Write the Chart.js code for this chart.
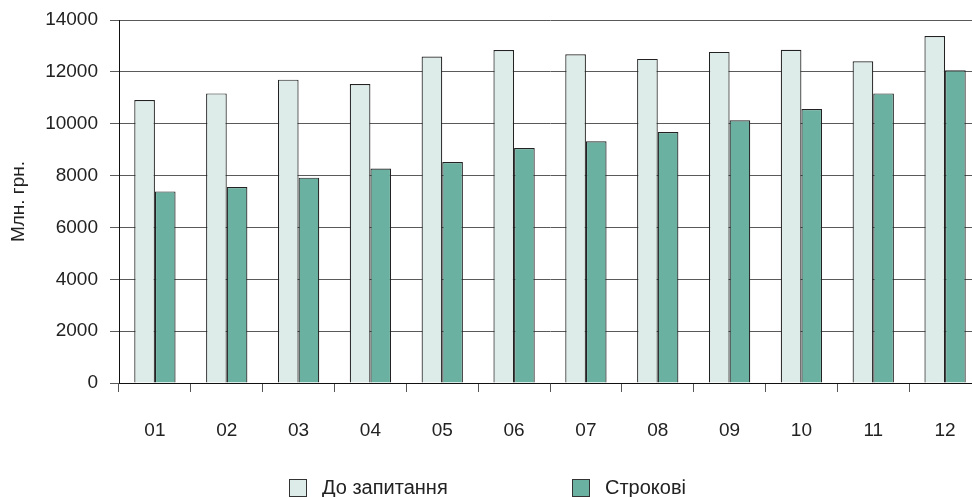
<!DOCTYPE html>
<html>
<head>
<meta charset="utf-8">
<script src="https://cdn.jsdelivr.net/npm/chart.js@4/dist/chart.umd.min.js"></script>
<style>
  html, body { margin: 0; padding: 0; background: #fff; overflow: hidden; width: 972px; height: 497px; }
  #wrap { position: absolute; left: 0; top: 0; width: 982px; height: 497px; }
  #legend { position: absolute; left: 0; top: 0; width: 972px; height: 497px; pointer-events: none;
            font-family: "Liberation Sans", Arial, sans-serif; font-size: 20px; color: #222; }
  .box { position: absolute; width: 16px; height: 16px; border: 1px solid #333; }
  .lbl { position: absolute; line-height: 20px; white-space: nowrap; }
</style>
</head>
<body>
<div id="wrap"><canvas id="c" width="982" height="497"></canvas></div>
<div id="legend"></div>
<script>
const categories = ['01', '02', '03', '04', '05', '06', '07', '08', '09', '10', '11', '12'];
const seriesNames = ['До запитання', 'Строкові'];
const demandDeposits = [10910, 11170, 11700, 11530, 12590, 12840, 12680, 12500, 12770, 12850, 12410, 13380];
const termDeposits = [7390, 7560, 7920, 8270, 8520, 9060, 9320, 9680, 10130, 10570, 11170, 12060];
const yTicks = [0, 2000, 4000, 6000, 8000, 10000, 12000, 14000];
const yTitle = 'Млн. грн.';

const colors = ['#ddece8', '#6ab1a1'];
const FONT = '"Liberation Sans", Arial, sans-serif';

const ctx = document.getElementById('c').getContext('2d');
new Chart(ctx, {
  type: 'bar',
  data: {
    labels: categories,
    datasets: [
      { label: seriesNames[0], data: demandDeposits, backgroundColor: colors[0], borderColor: '#222', borderWidth: 1.2,
        categoryPercentage: 0.575, barPercentage: 1.0 },
      { label: seriesNames[1], data: termDeposits, backgroundColor: colors[1], borderColor: '#222', borderWidth: 1.2,
        categoryPercentage: 0.575, barPercentage: 1.0 }
    ]
  },
  options: {
    responsive: false,
    animation: false,
    devicePixelRatio: 1,
    layout: { padding: { top: 20, right: 1, left: 0, bottom: 0 } },
    plugins: { legend: { display: false }, tooltip: { enabled: false } },
    scales: {
      x: {
        grid: { offset: true, drawOnChartArea: false, drawTicks: true, tickLength: 9, color: '#555', lineWidth: 1 },
        border: { display: true, color: '#111', width: 1 },
        ticks: { color: '#222', font: { family: FONT, size: 19 }, padding: 27, maxRotation: 0, autoSkip: false },
        afterFit: s => { s.height = 114; s.paddingLeft = 0; s.paddingRight = 0; }
      },
      y: {
        min: 0, max: 14000,
        afterBuildTicks: s => { s.ticks = yTicks.map(v => ({ value: v })); },
        grid: { color: '#5a5a5a', lineWidth: 1, drawTicks: true, tickLength: 9 },
        border: { display: true, color: '#111', width: 1 },
        ticks: { color: '#222', font: { family: FONT, size: 19 }, padding: 12, callback: v => String(v) },
        title: { display: true, text: yTitle, color: '#222', font: { family: FONT, size: 19 }, padding: { top: 7, bottom: 0 } },
        afterFit: s => { s.width = 119; s.paddingTop = 0; s.paddingBottom = 0; }
      }
    }
  }
});

// HTML legend
const legend = document.getElementById('legend');
const legendPos = [{ box: 289, text: 322 }, { box: 572, text: 605 }];
seriesNames.forEach((name, i) => {
  const b = document.createElement('div');
  b.className = 'box';
  b.style.left = legendPos[i].box + 'px';
  b.style.top = '479px';
  b.style.background = colors[i];
  legend.appendChild(b);
  const t = document.createElement('div');
  t.className = 'lbl';
  t.style.left = legendPos[i].text + 'px';
  t.style.top = '477px';
  t.textContent = name;
  legend.appendChild(t);
});
</script>
</body>
</html>
